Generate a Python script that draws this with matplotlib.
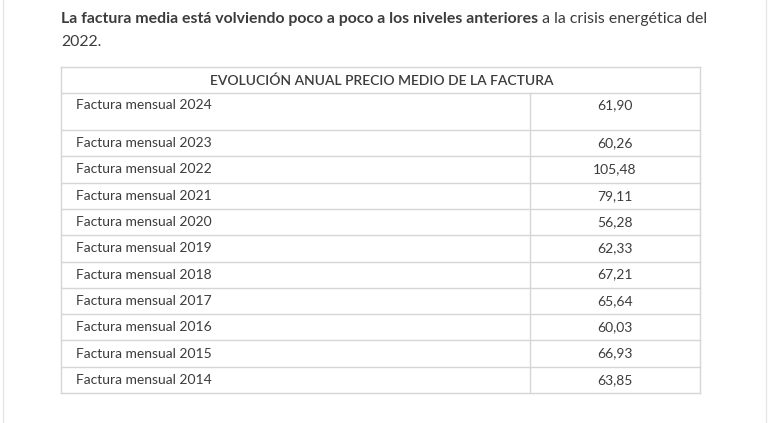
import matplotlib
matplotlib.use('Agg')
import matplotlib.pyplot as plt

# table content
title = "EVOLUCIÓN ANUAL PRECIO MEDIO DE LA FACTURA"
years = [2024, 2023, 2022, 2021, 2020, 2019, 2018, 2017, 2016, 2015, 2014]
prices = ["61,90", "60,26", "105,48", "79,11", "56,28", "62,33",
          "67,21", "65,64", "60,03", "66,93", "63,85"]
labels = [f"Factura mensual {y}" for y in years]

intro_bold = "La factura media está volviendo poco a poco a los niveles anteriores"
intro_rest = " a la crisis energética del"
intro_line2 = "2022."

W, H = 777, 423
fig = plt.figure(figsize=(W / 100, H / 100), dpi=100)
ax = fig.add_axes([0, 0, 1, 1])
ax.set_xlim(0, W)
ax.set_ylim(H, 0)
ax.axis("off")

plt.rcParams['font.family'] = ['Lato', 'DejaVu Sans']
txt = "#3c3c3c"
grid = "#d6d6d6"

# page frame lines
ax.plot([3, 3], [0, H], color="#e6e6e6", lw=1)
ax.plot([766, 766], [0, H], color="#e6e6e6", lw=1)

# intro paragraph
b = ax.text(61, 23.5, intro_bold, fontsize=11.4, fontweight="bold", color=txt,
            va="baseline", ha="left")
ax.annotate(intro_rest, xy=(1, 0), xycoords=b, fontsize=11.4, color=txt,
            va="bottom", ha="left")
ax.text(61, 46, intro_line2, fontsize=11.4, color=txt, va="baseline", ha="left")

# table geometry
left, right, split = 61, 700, 530
top, head_bot = 67, 93
first_h, row_h = 37, 26.3
edges = [top, head_bot, head_bot + first_h]
for i in range(len(years) - 1):
    edges.append(edges[-1] + row_h)

for y in edges:
    ax.plot([left, right], [y, y], color=grid, lw=1)
ax.plot([left, left], [top, edges[-1]], color=grid, lw=1)
ax.plot([right, right], [top, edges[-1]], color=grid, lw=1)
ax.plot([split, split], [head_bot, edges[-1]], color=grid, lw=1)

ax.text((left + right) / 2 + 1, (top + head_bot) / 2 + 1, title, fontsize=10,
        fontweight="semibold", color=txt, ha="center", va="center")

for i, (lab, val) in enumerate(zip(labels, prices)):
    if i == 0:
        yc = head_bot + 12
    else:
        yc = (edges[i + 1] + edges[i + 2]) / 2
    ax.text(76, yc, lab, fontsize=10, color=txt, ha="left", va="center")
    ax.text((split + right) / 2, yc, val, fontsize=10, color=txt,
            ha="center", va="center")

fig.savefig("out.png", dpi=100)
